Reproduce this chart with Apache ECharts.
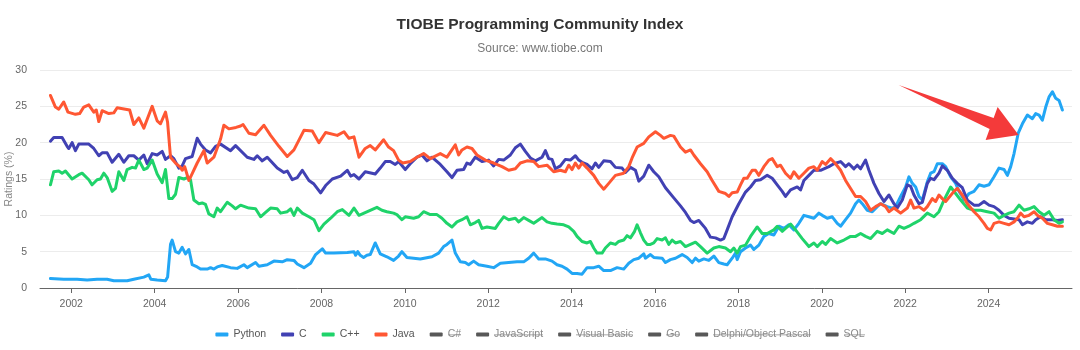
<!DOCTYPE html>
<html>
<head>
<meta charset="utf-8">
<script src="https://cdn.jsdelivr.net/npm/echarts@6/dist/echarts.min.js"></script>
<style>
html,body{margin:0;padding:0;background:#fff;}
#chart{width:1080px;height:350px;}
</style>
</head>
<body>
<div id="chart"></div>
<script>
// ---- data (year fraction, rating %) ----
const activeNames = ['Python', 'C', 'C++', 'Java'];
const hiddenNames = ['C#', 'JavaScript', 'Visual Basic', 'Go', 'Delphi/Object Pascal', 'SQL'];
const yearTicks = [2002, 2004, 2006, 2008, 2010, 2012, 2014, 2016, 2018, 2020, 2022, 2024];
const arrowTarget = [2024.72, 21.07];

const pythonData = [
[2001.50,1.3],[2001.82,1.2],[2002.14,1.2],[2002.38,1.1],[2002.62,1.2],[2002.86,1.2],[2003.02,1.0],[2003.34,1.0],[2003.50,1.2],[2003.74,1.5],[2003.86,1.8],[2003.91,1.2],[2004.06,1.1],[2004.26,1.0],[2004.31,1.5],[2004.38,6.0],[2004.42,6.6],[2004.50,5.0],[2004.58,4.8],[2004.66,5.6],[2004.74,4.7],[2004.82,5.3],[2004.90,3.2],[2005.02,2.9],[2005.10,2.6],[2005.26,2.6],[2005.34,2.8],[2005.42,2.6],[2005.50,2.9],[2005.62,3.1],[2005.82,2.8],[2005.98,2.7],[2006.14,3.2],[2006.22,2.8],[2006.42,3.5],[2006.50,3.0],[2006.70,3.2],[2006.86,3.7],[2007.06,3.6],[2007.18,3.9],[2007.34,3.8],[2007.42,3.3],[2007.58,2.8],[2007.74,3.4],[2007.86,4.6],[2008.02,5.4],[2008.10,4.8],[2008.30,4.8],[2008.62,4.9],[2008.78,5.0],[2008.82,4.5],[2008.87,5.0],[2008.93,4.5],[2009.01,4.2],[2009.09,4.5],[2009.17,4.6],[2009.29,6.2],[2009.41,4.7],[2009.57,4.3],[2009.73,3.8],[2009.85,4.4],[2009.93,5.0],[2010.05,4.2],[2010.37,4.0],[2010.65,4.3],[2010.81,4.8],[2010.93,5.7],[2011.01,6.0],[2011.05,5.8],[2011.13,6.6],[2011.21,4.8],[2011.33,3.6],[2011.45,3.5],[2011.53,3.2],[2011.65,3.7],[2011.77,3.2],[2011.97,3.0],[2012.13,2.8],[2012.29,3.4],[2012.49,3.5],[2012.69,3.6],[2012.85,3.6],[2012.97,4.1],[2013.09,4.8],[2013.21,4.0],[2013.37,4.0],[2013.53,3.7],[2013.65,3.2],[2013.77,3.0],[2013.89,2.6],[2014.01,2.0],[2014.13,2.0],[2014.25,1.9],[2014.37,2.8],[2014.53,2.8],[2014.65,3.0],[2014.77,2.4],[2014.93,2.4],[2015.09,2.8],[2015.25,2.6],[2015.37,3.4],[2015.49,3.9],[2015.61,4.1],[2015.73,4.7],[2015.77,4.1],[2015.89,4.6],[2015.97,4.2],[2016.17,4.1],[2016.25,3.5],[2016.37,3.9],[2016.49,4.1],[2016.65,4.6],[2016.77,4.2],[2016.89,3.5],[2016.97,4.1],[2017.05,3.7],[2017.17,4.0],[2017.29,3.8],[2017.41,4.4],[2017.53,3.5],[2017.65,3.3],[2017.73,3.2],[2017.85,4.1],[2017.93,4.8],[2017.97,3.9],[2018.05,5.0],[2018.17,5.5],[2018.29,5.9],[2018.37,5.3],[2018.49,5.9],[2018.61,7.1],[2018.73,7.5],[2018.85,7.3],[2018.97,8.5],[2019.09,8.2],[2019.21,8.7],[2019.33,8.0],[2019.45,8.9],[2019.57,10.0],[2019.69,9.8],[2019.81,9.6],[2019.93,10.3],[2020.01,10.0],[2020.13,9.6],[2020.25,9.8],[2020.37,8.9],[2020.45,8.5],[2020.57,9.4],[2020.69,10.3],[2020.81,11.6],[2020.89,12.1],[2020.97,11.6],[2021.09,10.7],[2021.21,10.5],[2021.33,11.2],[2021.41,11.6],[2021.57,11.2],[2021.69,11.0],[2021.77,11.2],[2021.89,12.6],[2022.01,13.9],[2022.09,15.3],[2022.17,14.4],[2022.25,13.9],[2022.33,12.6],[2022.41,12.1],[2022.53,14.6],[2022.61,15.8],[2022.69,16.0],[2022.77,17.1],[2022.89,17.1],[2022.97,16.7],[2023.09,15.3],[2023.21,14.4],[2023.29,13.3],[2023.41,12.1],[2023.53,13.0],[2023.65,13.3],[2023.77,14.2],[2023.89,14.0],[2024.01,14.2],[2024.13,15.3],[2024.25,16.5],[2024.37,16.3],[2024.45,15.5],[2024.53,16.7],[2024.61,18.5],[2024.71,21.3],[2024.81,22.6],[2024.93,23.8],[2025.05,23.3],[2025.13,24.0],[2025.21,23.8],[2025.29,23.1],[2025.37,24.9],[2025.45,26.3],[2025.53,27.0],[2025.61,26.1],[2025.69,25.8],[2025.77,24.5]
];

const cData = [
[2001.50,20.2],[2001.58,20.7],[2001.78,20.7],[2001.90,19.5],[2001.94,19.2],[2002.02,20.0],[2002.10,18.9],[2002.18,19.8],[2002.42,19.8],[2002.54,19.2],[2002.66,18.2],[2002.74,18.6],[2002.86,18.6],[2002.98,17.3],[2003.14,18.4],[2003.26,17.3],[2003.38,18.2],[2003.50,18.2],[2003.62,17.6],[2003.74,18.3],[2003.82,17.1],[2003.94,18.5],[2004.06,18.3],[2004.18,18.8],[2004.26,17.7],[2004.38,18.2],[2004.46,17.8],[2004.58,16.5],[2004.66,16.8],[2004.74,17.8],[2004.90,18.1],[2005.02,20.6],[2005.10,19.8],[2005.22,19.0],[2005.34,18.6],[2005.46,19.5],[2005.58,19.8],[2005.82,18.9],[2005.94,19.6],[2006.22,18.0],[2006.38,17.7],[2006.46,18.2],[2006.58,17.5],[2006.70,18.0],[2006.94,16.5],[2007.10,15.9],[2007.18,16.1],[2007.30,14.9],[2007.42,15.2],[2007.54,16.2],[2007.70,14.8],[2007.82,14.3],[2007.98,13.1],[2008.10,14.1],[2008.26,15.0],[2008.46,15.4],[2008.62,16.2],[2008.70,15.4],[2008.78,15.6],[2008.90,15.0],[2009.05,16.0],[2009.29,15.7],[2009.41,16.5],[2009.53,17.4],[2009.65,17.4],[2009.77,17.0],[2009.85,17.4],[2010.01,16.3],[2010.13,17.1],[2010.29,18.0],[2010.41,18.3],[2010.53,17.5],[2010.65,18.0],[2010.85,17.0],[2011.01,16.0],[2011.13,15.2],[2011.25,16.2],[2011.41,16.3],[2011.49,17.2],[2011.57,17.0],[2011.69,18.0],[2011.85,17.4],[2012.01,17.6],[2012.13,16.8],[2012.25,17.7],[2012.37,17.6],[2012.53,18.3],[2012.65,19.3],[2012.77,19.8],[2012.89,18.8],[2013.01,17.9],[2013.13,17.5],[2013.29,18.0],[2013.37,18.9],[2013.45,17.8],[2013.53,17.7],[2013.61,16.4],[2013.73,16.8],[2013.85,17.7],[2013.97,17.6],[2014.09,18.2],[2014.17,17.6],[2014.25,17.3],[2014.37,17.0],[2014.49,16.4],[2014.57,17.2],[2014.65,16.6],[2014.77,17.5],[2014.93,17.4],[2015.05,16.6],[2015.21,16.5],[2015.29,15.9],[2015.41,16.6],[2015.53,16.2],[2015.61,14.7],[2015.73,15.4],[2015.85,16.9],[2015.97,16.0],[2016.09,15.3],[2016.25,13.8],[2016.45,12.4],[2016.61,11.3],[2016.73,10.4],[2016.85,9.3],[2016.93,9.0],[2017.05,9.3],[2017.21,8.2],[2017.33,7.0],[2017.45,6.9],[2017.57,6.6],[2017.65,6.8],[2017.73,8.0],[2017.85,9.8],[2018.01,11.6],[2018.17,13.2],[2018.29,13.9],[2018.41,14.8],[2018.53,14.9],[2018.69,15.5],[2018.81,15.1],[2018.93,14.2],[2019.05,13.3],[2019.13,12.6],[2019.25,13.5],[2019.41,13.9],[2019.49,13.5],[2019.57,14.8],[2019.69,15.5],[2019.81,16.2],[2019.97,16.2],[2020.05,16.4],[2020.17,16.7],[2020.29,17.1],[2020.45,17.4],[2020.57,16.7],[2020.65,17.1],[2020.77,16.4],[2020.85,16.9],[2020.93,16.4],[2021.05,17.6],[2021.13,16.2],[2021.25,14.4],[2021.37,13.0],[2021.49,11.9],[2021.61,12.8],[2021.73,11.6],[2021.81,11.0],[2021.93,12.1],[2022.05,14.2],[2022.13,14.0],[2022.21,12.8],[2022.33,11.6],[2022.41,11.8],[2022.53,14.4],[2022.61,15.1],[2022.69,14.9],[2022.81,15.8],[2022.89,16.8],[2023.01,16.2],[2023.13,15.1],[2023.25,14.4],[2023.37,13.8],[2023.49,12.1],[2023.65,11.4],[2023.77,11.4],[2023.89,11.9],[2024.01,11.4],[2024.13,11.2],[2024.25,10.7],[2024.37,10.0],[2024.49,9.6],[2024.61,9.5],[2024.73,9.4],[2024.81,8.7],[2024.93,9.1],[2025.05,8.9],[2025.13,9.4],[2025.25,9.8],[2025.37,9.4],[2025.53,9.4],[2025.65,9.3],[2025.77,9.4]
];

const cppData = [
[2001.50,14.2],[2001.58,16.0],[2001.70,16.1],[2001.78,15.8],[2001.86,16.1],[2002.02,15.0],[2002.18,15.6],[2002.26,15.8],[2002.42,14.9],[2002.50,14.2],[2002.62,14.9],[2002.70,15.0],[2002.78,15.8],[2002.86,15.2],[2002.98,13.3],[2003.06,13.7],[2003.14,16.0],[2003.26,14.8],[2003.34,16.3],[2003.46,16.6],[2003.54,16.5],[2003.62,17.6],[2003.74,16.3],[2003.82,16.5],[2003.94,17.6],[2004.06,15.7],[2004.18,14.5],[2004.26,16.3],[2004.34,12.3],[2004.42,12.3],[2004.50,12.9],[2004.58,15.2],[2004.70,15.0],[2004.78,15.2],[2004.86,14.9],[2004.94,12.1],[2005.06,11.6],[2005.14,11.7],[2005.22,11.5],[2005.30,10.2],[2005.42,9.8],[2005.50,11.0],[2005.58,10.5],[2005.74,11.8],[2005.86,11.3],[2005.94,10.9],[2006.06,11.4],[2006.26,11.0],[2006.42,10.9],[2006.54,9.8],[2006.66,10.4],[2006.78,11.0],[2006.94,10.9],[2007.02,10.3],[2007.18,10.5],[2007.26,10.9],[2007.34,10.0],[2007.42,11.0],[2007.54,10.3],[2007.70,9.8],[2007.82,9.4],[2007.94,7.9],[2008.06,8.8],[2008.22,9.6],[2008.38,10.5],[2008.50,10.8],[2008.66,10.0],[2008.78,11.0],[2008.90,10.0],[2009.33,11.1],[2009.45,10.7],[2009.57,10.5],[2009.73,10.3],[2009.81,10.1],[2009.93,9.4],[2010.01,9.8],[2010.21,9.6],[2010.33,9.8],[2010.45,10.5],[2010.61,10.1],[2010.77,10.1],[2010.89,9.6],[2011.01,8.9],[2011.13,8.4],[2011.25,9.1],[2011.37,9.4],[2011.49,9.8],[2011.57,8.7],[2011.69,9.0],[2011.77,9.3],[2011.85,8.2],[2011.97,8.4],[2012.17,8.2],[2012.25,8.9],[2012.37,9.8],[2012.49,9.4],[2012.65,9.6],[2012.73,9.1],[2012.85,9.7],[2012.97,9.3],[2013.09,8.9],[2013.29,9.7],[2013.41,9.1],[2013.53,8.9],[2013.65,8.8],[2013.81,8.7],[2013.93,8.4],[2014.05,7.8],[2014.13,7.1],[2014.25,6.4],[2014.37,6.2],[2014.45,6.4],[2014.53,5.5],[2014.61,4.8],[2014.73,4.8],[2014.81,5.5],[2014.93,6.2],[2015.05,6.0],[2015.13,6.4],[2015.25,6.6],[2015.33,7.2],[2015.41,6.9],[2015.51,7.8],[2015.57,8.7],[2015.65,7.6],[2015.73,6.6],[2015.81,6.0],[2015.89,6.0],[2015.97,6.2],[2016.05,6.8],[2016.17,6.6],[2016.25,6.9],[2016.33,6.0],[2016.41,6.6],[2016.49,6.2],[2016.61,6.4],[2016.73,5.7],[2016.97,6.3],[2017.09,5.7],[2017.25,4.8],[2017.41,5.5],[2017.53,5.7],[2017.69,5.5],[2017.81,5.0],[2017.89,5.5],[2017.97,4.8],[2018.05,5.7],[2018.17,5.9],[2018.29,7.1],[2018.45,8.4],[2018.57,7.5],[2018.69,7.5],[2018.85,8.0],[2018.93,8.5],[2019.05,7.8],[2019.13,8.2],[2019.25,8.8],[2019.37,8.0],[2019.53,6.8],[2019.69,5.7],[2019.81,6.2],[2019.89,5.7],[2020.01,6.4],[2020.09,6.0],[2020.21,6.8],[2020.37,6.2],[2020.53,6.6],[2020.69,7.1],[2020.81,7.1],[2020.93,7.5],[2021.05,7.1],[2021.17,6.8],[2021.33,7.8],[2021.45,7.5],[2021.57,8.0],[2021.73,7.5],[2021.85,8.5],[2021.97,8.2],[2022.09,8.5],[2022.21,8.9],[2022.37,9.4],[2022.53,10.3],[2022.69,9.8],[2022.81,10.5],[2022.93,12.1],[2023.09,13.9],[2023.21,13.0],[2023.33,12.1],[2023.49,11.0],[2023.65,10.7],[2023.81,10.7],[2023.97,10.5],[2024.13,10.3],[2024.25,9.6],[2024.37,10.0],[2024.49,10.3],[2024.61,10.5],[2024.73,11.4],[2024.85,10.7],[2024.97,10.9],[2025.09,11.2],[2025.21,10.5],[2025.33,10.0],[2025.45,10.5],[2025.57,9.4],[2025.69,8.9],[2025.77,9.1]
];

const javaData = [
[2001.50,26.5],[2001.62,24.9],[2001.70,24.6],[2001.82,25.6],[2001.92,24.2],[2002.10,23.9],[2002.20,24.0],[2002.30,24.9],[2002.42,25.2],[2002.54,24.2],[2002.60,24.5],[2002.66,22.9],[2002.74,24.4],[2002.90,24.0],[2003.02,24.1],[2003.10,24.8],[2003.30,24.6],[2003.40,24.5],[2003.50,22.5],[2003.62,23.4],[2003.74,22.0],[2003.94,25.0],[2004.06,23.0],[2004.14,22.6],[2004.26,24.2],[2004.31,22.8],[2004.38,18.0],[2004.50,17.2],[2004.62,16.6],[2004.66,16.2],[2004.72,16.7],[2004.82,14.8],[2004.88,15.5],[2005.02,17.2],[2005.18,18.9],[2005.26,17.2],[2005.42,18.0],[2005.58,20.5],[2005.66,22.4],[2005.78,21.9],[2005.95,22.1],[2006.06,22.3],[2006.12,22.5],[2006.26,21.3],[2006.42,21.1],[2006.62,22.4],[2006.78,21.0],[2006.98,19.5],[2007.18,18.1],[2007.34,19.0],[2007.58,21.7],[2007.78,21.6],[2007.94,20.0],[2008.10,21.4],[2008.38,21.0],[2008.54,21.5],[2008.66,20.6],[2008.78,20.8],[2008.90,18.0],[2009.05,19.2],[2009.17,19.6],[2009.29,19.0],[2009.49,20.4],[2009.61,19.4],[2009.73,18.9],[2009.85,17.6],[2009.95,17.2],[2010.13,17.4],[2010.29,18.0],[2010.45,18.5],[2010.61,17.8],[2010.85,18.5],[2011.01,18.0],[2011.21,19.7],[2011.29,18.3],[2011.37,19.0],[2011.49,19.4],[2011.61,19.2],[2011.73,18.3],[2011.93,17.6],[2012.13,17.2],[2012.33,16.7],[2012.49,16.2],[2012.65,16.4],[2012.77,17.2],[2012.93,17.5],[2013.09,17.4],[2013.21,16.7],[2013.41,16.9],[2013.57,16.0],[2013.73,16.2],[2013.85,16.0],[2013.93,16.9],[2014.01,16.3],[2014.09,17.2],[2014.17,16.5],[2014.25,17.2],[2014.37,16.5],[2014.53,15.5],[2014.65,14.4],[2014.77,13.6],[2014.89,14.4],[2015.05,15.5],[2015.25,15.8],[2015.37,16.7],[2015.45,17.9],[2015.57,19.4],[2015.73,19.9],[2015.85,20.8],[2016.01,21.5],[2016.13,21.0],[2016.21,20.6],[2016.37,21.0],[2016.45,20.9],[2016.61,19.4],[2016.73,18.7],[2016.85,19.0],[2016.93,18.3],[2017.09,17.1],[2017.25,16.0],[2017.37,14.8],[2017.53,13.3],[2017.69,13.0],[2017.77,12.6],[2017.85,13.1],[2017.97,13.2],[2018.05,14.2],[2018.13,15.1],[2018.21,15.1],[2018.33,16.2],[2018.41,16.2],[2018.49,15.5],[2018.61,16.7],[2018.73,17.6],[2018.81,17.8],[2018.93,16.7],[2019.01,16.9],[2019.13,15.8],[2019.25,15.1],[2019.33,16.0],[2019.45,15.1],[2019.57,15.8],[2019.69,16.5],[2019.81,16.7],[2019.89,16.2],[2020.01,17.4],[2020.09,17.0],[2020.21,17.8],[2020.33,17.1],[2020.45,16.2],[2020.57,14.8],[2020.69,13.7],[2020.81,12.6],[2020.93,12.6],[2021.05,11.9],[2021.17,10.7],[2021.29,11.2],[2021.41,11.6],[2021.53,11.2],[2021.61,10.5],[2021.73,11.0],[2021.89,10.3],[2022.05,11.0],[2022.13,12.1],[2022.21,11.0],[2022.33,11.2],[2022.45,10.7],[2022.53,11.2],[2022.65,12.3],[2022.73,11.9],[2022.81,12.8],[2022.89,12.3],[2022.97,11.9],[2023.17,13.3],[2023.25,13.7],[2023.37,12.8],[2023.49,11.6],[2023.65,10.5],[2023.77,9.8],[2023.89,8.9],[2023.97,8.2],[2024.05,8.0],[2024.13,8.9],[2024.25,9.1],[2024.37,8.9],[2024.49,8.7],[2024.61,9.1],[2024.69,9.6],[2024.77,10.3],[2024.85,9.8],[2024.97,10.0],[2025.09,10.5],[2025.17,10.0],[2025.29,9.6],[2025.41,8.9],[2025.53,8.7],[2025.65,8.5],[2025.77,8.5]
];

const seriesColors = { 'Python': '#22a6f5', 'C': '#4141b3', 'C++': '#1fd36a', 'Java': '#ff5733' };
const hiddenColor = '#585858';
const seriesData = { 'Python': pythonData, 'C': cData, 'C++': cppData, 'Java': javaData };

// strikethrough background for hidden legend entries (1px wide so it stretches to the text width)
const strike = document.createElement('canvas');
strike.width = 1; strike.height = 14;
(function () {
  const g = strike.getContext('2d');
  g.fillStyle = '#8a8a8a';
  g.fillRect(0, 7, 1, 1);
})();

const FONT = '"Liberation Sans", Arial, Helvetica, sans-serif';
const chart = echarts.init(document.getElementById('chart'), null, { renderer: 'canvas' });

const series = activeNames.map(n => ({
  name: n, type: 'line', data: seriesData[n], color: seriesColors[n],
  showSymbol: false, symbol: 'none', smooth: false,
  lineStyle: { width: 3, join: 'round', cap: 'round' },
  emphasis: { disabled: true }
})).concat(hiddenNames.map(n => ({
  name: n, type: 'line', data: [], color: hiddenColor, showSymbol: false
})));

chart.setOption({
  animation: false,
  backgroundColor: '#ffffff',
  textStyle: { fontFamily: FONT },
  title: {
    text: 'TIOBE Programming Community Index',
    subtext: 'Source: www.tiobe.com',
    left: 'center', top: 12, itemGap: 10,
    textStyle: { fontFamily: FONT, fontSize: 15.5, fontWeight: 'bold', color: '#333333' },
    subtextStyle: { fontFamily: FONT, fontSize: 12, color: '#777777' }
  },
  legend: {
    bottom: 5, left: 'center',
    icon: 'roundRect', itemWidth: 13, itemHeight: 4, itemGap: 15,
    data: activeNames.concat(hiddenNames),
    textStyle: {
      fontFamily: FONT, fontSize: 10.5, color: '#555555',
      rich: {
        s: { fontFamily: FONT, fontSize: 10.5, color: '#8a8a8a', lineHeight: 14,
             backgroundColor: { image: strike } }
      }
    },
    formatter: name => hiddenNames.includes(name) ? '{s|' + name + '}' : name
  },
  grid: { left: 40, right: 8, top: 70, bottom: 62, containLabel: false, outerBoundsMode: 'none' },
  xAxis: {
    type: 'value', min: 2001.25, max: 2026.0,
    axisLine: { show: true, lineStyle: { color: '#666666', width: 1 } },
    axisTick: { show: true, length: 5, lineStyle: { color: '#666666' }, customValues: yearTicks },
    axisLabel: { customValues: yearTicks, formatter: v => String(v), color: '#666666',
                 fontSize: 10.5, fontFamily: FONT, margin: 11 },
    splitLine: { show: false }
  },
  yAxis: {
    type: 'value', min: 0, max: 30, interval: 5,
    name: 'Ratings (%)', nameLocation: 'middle', nameGap: 25, nameMoveOverlap: false,
    nameTextStyle: { color: '#888888', fontSize: 10.5, fontFamily: FONT },
    axisLine: { show: false }, axisTick: { show: false },
    axisLabel: { color: '#666666', fontSize: 10.5, fontFamily: FONT, margin: 13 },
    splitLine: { lineStyle: { color: '#ececec', width: 1 } }
  },
  series: series
});

// red annotation arrow pointing at the Python surge
const tip = chart.convertToPixel({ xAxisIndex: 0, yAxisIndex: 0 }, arrowTarget);
const arrowShape = [[-120, -50], [-25, -17], [-21, -28], [0, 0], [-33, 5], [-29, -6]];
chart.setOption({
  graphic: [{
    type: 'polygon', z: 100,
    shape: { points: arrowShape.map(p => [tip[0] + p[0], tip[1] + p[1]]) },
    style: { fill: '#f43a3a' }
  }]
});
</script>
</body>
</html>
